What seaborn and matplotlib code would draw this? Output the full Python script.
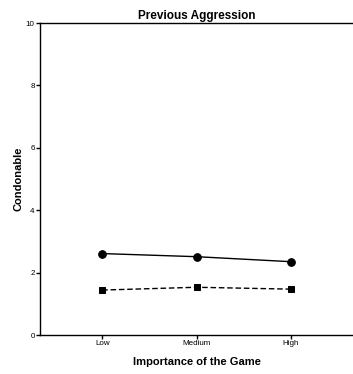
import matplotlib
matplotlib.use("Agg")
import matplotlib.pyplot as plt
import seaborn as sns
import pandas as pd

categories = ["Low", "Medium", "High"]
series_a = [2.61, 2.51, 2.35]   # solid, circles
series_b = [1.44, 1.53, 1.47]   # dashed, squares
yticks = [0, 2, 4, 6, 8, 10]

df = pd.DataFrame({
    "game": categories * 2,
    "value": series_a + series_b,
    "group": ["A"] * 3 + ["B"] * 3,
})

sns.set_style("white")
plt.rcParams["font.family"] = ["Liberation Sans", "DejaVu Sans"]
plt.rcParams["text.color"] = "black"
plt.rcParams["axes.labelcolor"] = "black"

fig = plt.figure(figsize=(3.53, 3.74), dpi=100)
ax = fig.add_axes([40 / 353, 1 - 335 / 374, 1 - 40 / 353, (335 - 23) / 374])

sns.lineplot(data=df, x="game", y="value", style="group",
             markers={"A": "o", "B": "s"},
             dashes={"A": "", "B": (4, 2)},
             color="black", linewidth=1.0, markersize=5.5,
             markeredgecolor="black", legend=False, ax=ax)
for line in ax.lines:
    if line.get_marker() == "s":
        line.set_markersize(4.2)

ax.set_xlim(-0.66, 2.66)
ax.set_ylim(0, 10)
ax.set_yticks(yticks)
ax.set_yticklabels([str(t) for t in yticks])
ax.tick_params(axis="both", which="both", direction="out", length=3, width=1,
               labelsize=5.8, colors="black", pad=0.8, left=True, bottom=True)
for side in ["left", "bottom", "top"]:
    ax.spines[side].set_visible(True)
    ax.spines[side].set_color("black")
    ax.spines[side].set_linewidth(1.0)
ax.spines["right"].set_visible(False)

ax.set_title("Previous Aggression", fontsize=8.5, fontweight="bold", pad=3,
             color="black")
ax.set_xlabel("Importance of the Game", fontsize=8, fontweight="bold",
              labelpad=7, color="black")
ax.set_ylabel("Condonable", fontsize=8, fontweight="bold", labelpad=1.5,
              color="black")

fig.savefig("out.png", dpi=100)
